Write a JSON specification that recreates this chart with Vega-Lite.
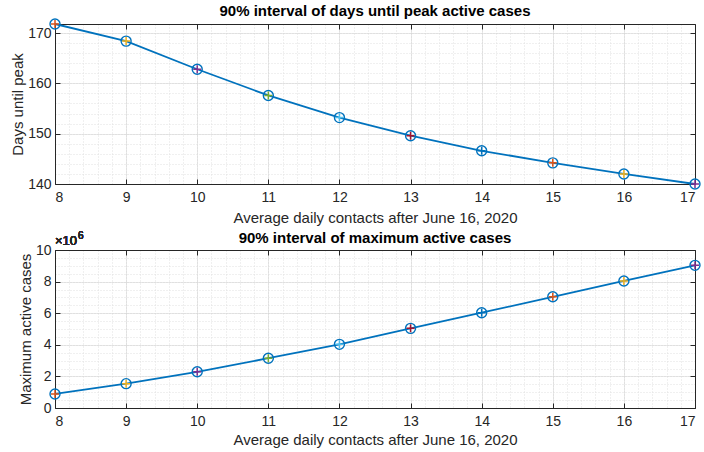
{
  "$schema": "https://vega.github.io/schema/vega-lite/v6.json",
  "padding": {"left": 10, "top": 4, "right": 6, "bottom": 2},
  "background": "white",
  "datasets": {
    "sweep": [
      {"contacts": 8, "days": 171.8, "maxActive": 890000},
      {"contacts": 9, "days": 168.4, "maxActive": 1540000},
      {"contacts": 10, "days": 162.8, "maxActive": 2290000},
      {"contacts": 11, "days": 157.6, "maxActive": 3150000},
      {"contacts": 12, "days": 153.2, "maxActive": 4030000},
      {"contacts": 13, "days": 149.6, "maxActive": 5040000},
      {"contacts": 14, "days": 146.6, "maxActive": 6030000},
      {"contacts": 15, "days": 144.2, "maxActive": 7040000},
      {"contacts": 16, "days": 142.0, "maxActive": 8040000},
      {"contacts": 17, "days": 140.0, "maxActive": 9030000}
    ]
  },
  "config": {
    "font": "Liberation Sans",
    "view": {"stroke": null},
    "axis": {
      "domainColor": "#262626",
      "tickColor": "#262626",
      "labelColor": "#262626",
      "titleColor": "#262626",
      "labelFont": "Liberation Sans",
      "titleFont": "Liberation Sans",
      "labelFontSize": 14,
      "titleFontSize": 15,
      "titleFontWeight": "normal",
      "domainWidth": 1,
      "tickWidth": 1
    },
    "title": {"font": "Liberation Sans", "fontSize": 15, "fontWeight": "bold", "color": "#000000", "offset": -3}
  },
  "bounds": "flush",
  "spacing": 66,
  "vconcat": [
    {
      "width": 640,
      "height": 160,
      "title": {"text": "90% interval of days until peak active cases"},
      "data": {"name": "sweep"},
      "resolve": {"axis": {"x": "independent", "y": "independent"}},
      "layer": [
        {
          "mark": {"type": "line", "color": "#0072BD", "strokeWidth": 1.8},
          "encoding": {
            "x": {"field": "contacts", "type": "quantitative",
              "scale": {"domain": [8, 17], "nice": false, "zero": false},
              "axis": {"orient": "bottom", "values": [8,8.2,8.4,8.6,8.8,9,9.2,9.4,9.6,9.8,10,10.2,10.4,10.6,10.8,11,11.2,11.4,11.6,11.8,12,12.2,12.4,12.6,12.8,13,13.2,13.4,13.6,13.8,14,14.2,14.4,14.6,14.8,15,15.2,15.4,15.6,15.8,16,16.2,16.4,16.6,16.8,17],
                "grid": true, "gridColor": "#e0e0e0", "gridDash": [1, 2], "labels": false, "ticks": false, "domain": false, "title": null}},
            "y": {"field": "days", "type": "quantitative",
              "scale": {"domain": [140, 171.8], "nice": false, "zero": false},
              "axis": {"orient": "left", "values": [140,142,144,146,148,150,152,154,156,158,160,162,164,166,168,170],
                "grid": true, "gridColor": "#e0e0e0", "gridDash": [1, 2], "labels": false, "ticks": false, "domain": false, "title": null}}
          }
        },
        {
          "mark": {"type": "point", "shape": "circle", "filled": false, "color": "#0072BD", "size": 100, "strokeWidth": 1.4, "opacity": 1},
          "encoding": {
            "x": {"field": "contacts", "type": "quantitative",
              "axis": {"orient": "bottom", "values": [8,9,10,11,12,13,14,15,16,17], "grid": true, "gridColor": "#d0d0d0", "gridDash": [1, 1],
                "tickSize": -5, "labelPadding": 11, "title": "Average daily contacts after June 16, 2020", "titlePadding": 6}},
            "y": {"field": "days", "type": "quantitative",
              "axis": {"orient": "left", "values": [140,150,160,170], "grid": true, "gridColor": "#d0d0d0", "gridDash": [1, 1],
                "tickSize": -5, "labelPadding": 9, "title": "Days until peak", "titlePadding": 2}}
          }
        },
        {
          "mark": {"type": "point", "shape": "M-1,0H1M0,-1V1", "filled": false, "size": 64, "strokeWidth": 1.5, "opacity": 1},
          "encoding": {
            "x": {"field": "contacts", "type": "quantitative",
              "axis": {"orient": "top", "values": [8,9,10,11,12,13,14,15,16,17], "grid": false, "labels": false, "tickSize": -5, "title": null}},
            "y": {"field": "days", "type": "quantitative",
              "axis": {"orient": "right", "values": [140,150,160,170], "grid": false, "labels": false, "tickSize": -5, "title": null}},
            "color": {"field": "contacts", "type": "ordinal", "legend": null,
              "scale": {"domain": [8,9,10,11,12,13,14,15,16,17],
                "range": ["#D95319","#EDB120","#7E2F8E","#77AC30","#4DBEEE","#A2142F","#0072BD","#D95319","#EDB120","#7E2F8E"]}}
          }
        }
      ]
    },
    {
      "width": 640,
      "height": 158,
      "title": {"text": "90% interval of maximum active cases", "offset": -15},
      "data": {"name": "sweep"},
      "resolve": {"axis": {"x": "independent", "y": "independent"}},
      "layer": [
        {
          "mark": {"type": "line", "color": "#0072BD", "strokeWidth": 1.8},
          "encoding": {
            "x": {"field": "contacts", "type": "quantitative",
              "scale": {"domain": [8, 17], "nice": false, "zero": false},
              "axis": {"orient": "bottom", "values": [8,8.2,8.4,8.6,8.8,9,9.2,9.4,9.6,9.8,10,10.2,10.4,10.6,10.8,11,11.2,11.4,11.6,11.8,12,12.2,12.4,12.6,12.8,13,13.2,13.4,13.6,13.8,14,14.2,14.4,14.6,14.8,15,15.2,15.4,15.6,15.8,16,16.2,16.4,16.6,16.8,17],
                "grid": true, "gridColor": "#e0e0e0", "gridDash": [1, 2], "labels": false, "ticks": false, "domain": false, "title": null}},
            "y": {"field": "maxActive", "type": "quantitative",
              "scale": {"domain": [0, 10000000], "nice": false, "zero": true},
              "axis": {"orient": "left", "values": [0,500000,1000000,1500000,2000000,2500000,3000000,3500000,4000000,4500000,5000000,5500000,6000000,6500000,7000000,7500000,8000000,8500000,9000000,9500000,10000000],
                "grid": true, "gridColor": "#e0e0e0", "gridDash": [1, 2], "labels": false, "ticks": false, "domain": false, "title": null}}
          }
        },
        {
          "mark": {"type": "point", "shape": "circle", "filled": false, "color": "#0072BD", "size": 100, "strokeWidth": 1.4, "opacity": 1},
          "encoding": {
            "x": {"field": "contacts", "type": "quantitative",
              "axis": {"orient": "bottom", "values": [8,9,10,11,12,13,14,15,16,17], "grid": true, "gridColor": "#d0d0d0", "gridDash": [1, 1],
                "tickSize": -5, "labelPadding": 11, "title": "Average daily contacts after June 16, 2020", "titlePadding": 4}},
            "y": {"field": "maxActive", "type": "quantitative",
              "axis": {"orient": "left", "values": [0,2000000,4000000,6000000,8000000,10000000], "labelExpr": "format(datum.value / 1000000, 'd')",
                "grid": true, "gridColor": "#d0d0d0", "gridDash": [1, 1],
                "tickSize": -5, "labelPadding": 9, "title": "Maximum active cases", "titlePadding": 2}}
          }
        },
        {
          "mark": {"type": "point", "shape": "M-1,0H1M0,-1V1", "filled": false, "size": 64, "strokeWidth": 1.5, "opacity": 1},
          "encoding": {
            "x": {"field": "contacts", "type": "quantitative",
              "axis": {"orient": "top", "values": [8,9,10,11,12,13,14,15,16,17], "grid": false, "labels": false, "tickSize": -5, "title": null}},
            "y": {"field": "maxActive", "type": "quantitative",
              "axis": {"orient": "right", "values": [0,2000000,4000000,6000000,8000000,10000000], "grid": false, "labels": false, "tickSize": -5, "title": null}},
            "color": {"field": "contacts", "type": "ordinal", "legend": null,
              "scale": {"domain": [8,9,10,11,12,13,14,15,16,17],
                "range": ["#D95319","#EDB120","#7E2F8E","#77AC30","#4DBEEE","#A2142F","#0072BD","#D95319","#EDB120","#7E2F8E"]}}
          }
        },
        {
          "mark": {"type": "text", "text": "×10", "align": "left", "baseline": "alphabetic", "dy": -5, "fontSize": 13, "fontWeight": "normal", "color": "#262626"},
          "encoding": {
            "x": {"datum": 8, "type": "quantitative", "axis": null},
            "y": {"datum": 10000000, "type": "quantitative", "axis": null}
          }
        },
        {
          "mark": {"type": "text", "text": "6", "align": "left", "baseline": "alphabetic", "dx": 23, "dy": -11, "fontSize": 10, "fontWeight": "normal", "color": "#262626"},
          "encoding": {
            "x": {"datum": 8, "type": "quantitative", "axis": null},
            "y": {"datum": 10000000, "type": "quantitative", "axis": null}
          }
        }
      ]
    }
  ]
}
